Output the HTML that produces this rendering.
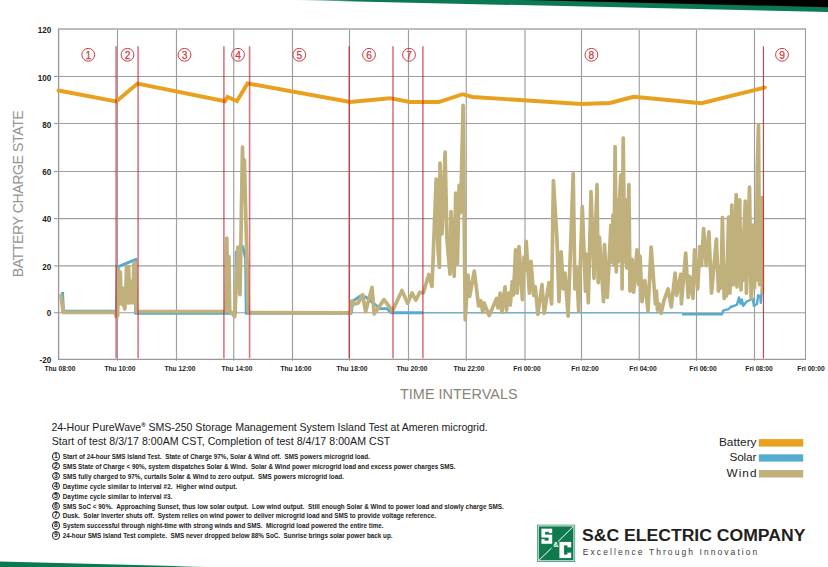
<!DOCTYPE html>
<html><head><meta charset="utf-8"><title>chart</title>
<style>
html,body{margin:0;padding:0;background:#fff;}
body{width:828px;height:567px;position:relative;overflow:hidden;font-family:"Liberation Sans",sans-serif;}
.xl{position:absolute;top:363.6px;width:60px;text-align:center;font-size:7px;font-weight:bold;color:#1c1c1c;line-height:10px;white-space:nowrap;transform:scaleX(0.95);}
.yl{position:absolute;left:20px;width:31.3px;text-align:right;font-size:8.8px;font-weight:bold;color:#1e1e1e;line-height:10px;transform:scaleX(0.92);transform-origin:100% 50%;}
.ylab{position:absolute;left:17.6px;top:194.4px;width:0;height:0;}
.ylab span{position:absolute;white-space:nowrap;transform:translate(-50%,-50%) rotate(-90deg);font-size:14.2px;color:#949494;letter-spacing:-0.47px;}
.xt{position:absolute;left:400px;top:384.9px;font-size:15px;color:#8a8378;white-space:nowrap;line-height:18px;transform:scaleX(0.964);transform-origin:0 50%;}
.t1{position:absolute;left:51.4px;font-size:10.6px;color:#1a1a1a;white-space:nowrap;line-height:14px;}
.n{position:absolute;left:51.3px;font-size:6.32px;font-weight:bold;color:#222;white-space:nowrap;line-height:9px;}
.n b{position:absolute;left:0.4px;top:0.2px;box-sizing:border-box;width:8.4px;height:8.4px;border:0.85px solid #222;border-radius:50%;font-size:6.8px;line-height:6.7px;text-align:center;letter-spacing:0;}
.n span{margin-left:11.4px;}
.lg{position:absolute;right:71.5px;font-size:11.8px;color:#222;line-height:14px;white-space:nowrap;text-align:right;}
.co{position:absolute;left:582.4px;top:526.1px;font-size:16.8px;font-weight:bold;color:#231f20;white-space:nowrap;line-height:20px;letter-spacing:0px;transform:scaleX(1.048);transform-origin:0 50%;}
.tag{position:absolute;left:582.8px;top:546.9px;font-size:8.5px;color:#3c3c3c;white-space:nowrap;line-height:11px;letter-spacing:2.07px;}
</style></head><body>

<svg width="828" height="567" viewBox="0 0 828 567" style="position:absolute;left:0;top:0">
<defs><linearGradient id="gg" x1="0" x2="1" y1="0" y2="0"><stop offset="0" stop-color="#0b7a52" stop-opacity="0"/><stop offset="0.12" stop-color="#0b7a52" stop-opacity="1"/><stop offset="1" stop-color="#0b7a52"/></linearGradient></defs>
<polygon points="290,0 828,0 828,12" fill="url(#gg)"/>
<defs><linearGradient id="gb" x1="0" x2="1" y1="0" y2="0"><stop offset="0" stop-color="#0b7a52"/><stop offset="0.8" stop-color="#0b7a52"/><stop offset="1" stop-color="#0b7a52" stop-opacity="0"/></linearGradient></defs><polygon points="0,561.4 0,567 214,567" fill="url(#gb)"/>
<polygon points="524,0 828,0 828,7.15" fill="#000"/>
<g stroke="#9e9e9e" stroke-width="1.15" fill="none"><line x1="117.5" y1="28.9" x2="117.5" y2="360.79999999999995"/><line x1="176.5" y1="28.9" x2="176.5" y2="360.79999999999995"/><line x1="233.75" y1="28.9" x2="233.75" y2="360.79999999999995"/><line x1="292.5" y1="28.9" x2="292.5" y2="360.79999999999995"/><line x1="349.5" y1="28.9" x2="349.5" y2="360.79999999999995"/><line x1="408.5" y1="28.9" x2="408.5" y2="360.79999999999995"/><line x1="466.25" y1="28.9" x2="466.25" y2="360.79999999999995"/><line x1="525" y1="28.9" x2="525" y2="360.79999999999995"/><line x1="581.5" y1="28.9" x2="581.5" y2="360.79999999999995"/><line x1="639.25" y1="28.9" x2="639.25" y2="360.79999999999995"/><line x1="696.5" y1="28.9" x2="696.5" y2="360.79999999999995"/><line x1="754.5" y1="28.9" x2="754.5" y2="360.79999999999995"/><line x1="58.6" y1="76.45" x2="805.5" y2="76.45"/><line x1="58.6" y1="123.5" x2="805.5" y2="123.5"/><line x1="58.6" y1="171.5" x2="805.5" y2="171.5"/><line x1="58.6" y1="218.65" x2="805.5" y2="218.65"/><line x1="58.6" y1="265.9" x2="805.5" y2="265.9"/><line x1="58.6" y1="312.7" x2="805.5" y2="312.7"/></g>
<line x1="57.9" y1="28.9" x2="806.1" y2="28.9" stroke="#bcbcbc" stroke-width="2"/>
<line x1="58.6" y1="28.9" x2="58.6" y2="359.9" stroke="#9a9a9a" stroke-width="1.4"/>
<line x1="805.5" y1="28.9" x2="805.5" y2="359.9" stroke="#999" stroke-width="1.05"/>
<g stroke="#9e9e9e" stroke-width="1.15"><line x1="53.9" y1="76.45" x2="58.6" y2="76.45"/><line x1="53.9" y1="123.5" x2="58.6" y2="123.5"/><line x1="53.9" y1="171.5" x2="58.6" y2="171.5"/><line x1="53.9" y1="218.65" x2="58.6" y2="218.65"/><line x1="53.9" y1="265.9" x2="58.6" y2="265.9"/><line x1="53.9" y1="312.7" x2="58.6" y2="312.7"/></g>
<line x1="57.9" y1="359.4" x2="806.1" y2="359.4" stroke="#999" stroke-width="1.1"/>
<polyline points="62.5,292.0 63.5,311.3 116.5,311.3 117.2,267.2 136.0,259.3 135.6,313.4 235.6,313.4 236.2,252.0 242.6,246.2 245.6,258.5 246.2,313.4 351.0,313.4 353.3,300.8 360.5,296.0 366.0,297.2 379.9,308.6 387.1,308.6 391.3,312.7 423.0,312.7" fill="none" stroke="#55acd0" stroke-width="2.9" stroke-linejoin="round"/>
<polyline points="423.0,312.9 682.0,312.9" fill="none" stroke="#55acd0" stroke-width="1"/>
<polyline points="682.0,314.2 722.0,314.2 723.1,310.6 728.4,309.1 730.6,307.0 736.9,304.9 739.0,297.5 740.5,303.8 741.8,299.6 743.3,305.9 746.4,301.7 752.8,298.5 753.9,305.9 757.0,303.8 758.1,295.3 760.2,296.4 760.8,302.8 762.3,285.8" fill="none" stroke="#55acd0" stroke-width="2.4" stroke-linejoin="round"/>
<polyline points="61.0,295.6 63.2,312.3 115.2,312.3 116.3,316.5 117.6,316.0 118.3,268.5 119.5,304.0 120.3,272.0 121.3,304.0 122.5,288.0 123.5,304.0 124.8,309.0 125.8,290.0 126.6,266.5 127.8,303.0 128.6,266.5 129.8,303.0 130.8,283.0 131.5,300.0 132.2,281.0 133.0,303.0 133.8,264.0 134.6,302.0 135.4,262.5 136.2,300.0 136.4,311.5 224.1,311.5 225.9,311.5 226.8,238.2 227.7,306.0 228.9,256.7 229.7,312.0 231.0,312.0 234.7,316.7 237.9,247.0 240.0,294.7 242.5,147.0 243.5,200.0 244.4,160.0 248.2,310.5 249.2,312.6 350.3,312.9 352.0,300.8 355.0,304.0 358.1,303.0 362.7,294.8 365.6,311.7 372.0,287.5 374.2,314.0 384.0,299.6 392.5,311.0 402.0,290.5 407.6,303.2 412.1,293.0 415.8,300.2 419.7,292.3 423.3,293.0 428.8,274.5 432.0,286.4 436.2,179.0 438.0,250.0 439.4,267.4 440.0,163.0 442.1,234.0 445.1,152.0 447.0,240.0 450.0,274.2 451.0,211.7 454.2,276.3 455.7,193.2 457.4,263.6 459.1,185.3 460.6,212.7 463.1,105.3 465.2,320.0 468.0,275.2 469.7,296.4 474.3,271.0 478.6,306.0 480.7,300.6 482.8,312.3 483.9,302.8 489.2,315.5 496.6,298.5 498.0,308.0 500.2,293.2 501.9,312.3 505.0,286.9 506.5,310.2 508.2,293.2 510.3,305.0 512.2,281.6 513.5,295.0 515.6,249.8 517.3,293.2 519.0,246.6 522.4,299.6 524.0,257.2 525.1,270.0 526.2,241.3 529.4,293.2 531.0,261.4 533.6,295.3 535.3,286.9 537.8,314.4 542.0,284.7 544.2,313.3 549.0,282.6 551.6,303.8 553.4,180.5 556.9,238.1 559.0,301.7 561.1,251.9 563.3,289.0 565.0,273.1 568.1,316.1 573.2,173.7 574.9,289.0 576.6,267.8 578.7,311.2 582.3,206.5 585.5,291.1 586.6,254.0 588.3,302.8 591.0,191.7 594.0,278.4 597.0,184.7 598.2,282.6 599.4,237.0 603.5,301.7 604.5,244.5 607.3,297.5 610.9,225.4 612.0,262.0 613.0,215.0 614.0,265.0 615.1,146.6 616.3,272.0 617.2,200.0 618.2,262.0 619.4,203.8 620.8,175.2 621.5,200.0 622.1,289.0 623.2,138.1 624.6,262.0 625.8,200.0 626.8,268.0 628.9,184.7 630.0,291.1 632.1,259.3 633.6,292.2 637.0,249.8 638.4,284.7 640.1,256.1 642.0,301.7 644.8,280.5 648.0,311.2 651.1,247.0 655.4,303.8 656.4,291.1 657.5,310.2 659.0,303.8 661.1,313.3 663.9,300.6 668.1,289.0 671.3,307.0 675.1,273.1 676.6,295.3 680.8,274.2 681.4,303.8 685.7,253.0 688.2,297.5 689.7,276.3 693.0,298.5 694.5,249.8 697.7,289.0 699.8,246.6 701.5,265.7 703.6,228.6 706.2,265.7 708.9,231.8 711.5,293.2 716.4,239.2 718.5,291.1 720.3,268.0 721.0,288.0 722.4,217.6 724.2,298.5 725.6,285.0 726.5,296.0 728.6,217.0 729.9,293.2 731.8,205.0 733.2,285.0 734.2,262.0 736.2,194.5 737.0,286.9 738.0,243.0 739.7,199.8 741.0,290.0 742.1,262.0 742.8,280.5 743.6,240.0 745.3,201.0 746.4,293.2 747.5,262.0 749.5,187.2 751.1,298.5 752.7,279.0 753.4,225.0 754.5,288.0 755.2,250.0 756.0,280.5 757.4,165.0 758.5,125.0 759.6,284.7 760.8,250.0 762.2,197.5 762.4,292.0" fill="none" stroke="#c0b07b" stroke-width="3.7" stroke-linejoin="round" stroke-linecap="round"/>
<polyline points="58.5,90.5 116.2,101.5 137.5,83.5 225.0,101.2 227.5,97.0 237.0,101.0 247.5,83.4 350.0,102.0 390.0,98.2 410.0,102.0 438.8,102.0 462.5,94.2 472.5,97.0 581.2,104.0 610.0,103.0 633.6,96.8 701.5,103.2 764.8,87.5" fill="none" stroke="#e9a01f" stroke-width="3.9" stroke-linejoin="miter" stroke-linecap="round"/>
<g stroke="rgba(200,22,40,0.6)" stroke-width="1.6"><line x1="116.1" y1="46.2" x2="116.1" y2="358.2"/><line x1="138.1" y1="46.2" x2="138.1" y2="358.2"/><line x1="223.9" y1="46.2" x2="223.9" y2="358.2"/><line x1="249.6" y1="46.2" x2="249.6" y2="358.2"/><line x1="349.2" y1="46.2" x2="349.2" y2="358.2"/><line x1="393" y1="46.2" x2="393" y2="358.2"/><line x1="422.9" y1="46.2" x2="422.9" y2="358.2"/></g>
<line x1="763.4" y1="46.3" x2="763.4" y2="358.5" stroke="#cc2a30" stroke-width="1"/>
<circle cx="88.25" cy="54.8" r="6.4" fill="none" stroke="#cf3a40" stroke-width="1"/>
<text x="88.25" y="58.6" text-anchor="middle" font-family="Liberation Sans, sans-serif" font-size="10.2" fill="#cf3a40" stroke="#cf3a40" stroke-width="0.25">1</text>
<circle cx="127.5" cy="54.8" r="6.4" fill="none" stroke="#cf3a40" stroke-width="1"/>
<text x="127.5" y="58.6" text-anchor="middle" font-family="Liberation Sans, sans-serif" font-size="10.2" fill="#cf3a40" stroke="#cf3a40" stroke-width="0.25">2</text>
<circle cx="184.5" cy="54.8" r="6.4" fill="none" stroke="#cf3a40" stroke-width="1"/>
<text x="184.5" y="58.6" text-anchor="middle" font-family="Liberation Sans, sans-serif" font-size="10.2" fill="#cf3a40" stroke="#cf3a40" stroke-width="0.25">3</text>
<circle cx="238" cy="54.8" r="6.4" fill="none" stroke="#cf3a40" stroke-width="1"/>
<text x="238" y="58.6" text-anchor="middle" font-family="Liberation Sans, sans-serif" font-size="10.2" fill="#cf3a40" stroke="#cf3a40" stroke-width="0.25">4</text>
<circle cx="299.25" cy="54.8" r="6.4" fill="none" stroke="#cf3a40" stroke-width="1"/>
<text x="299.25" y="58.6" text-anchor="middle" font-family="Liberation Sans, sans-serif" font-size="10.2" fill="#cf3a40" stroke="#cf3a40" stroke-width="0.25">5</text>
<circle cx="369" cy="54.8" r="6.4" fill="none" stroke="#cf3a40" stroke-width="1"/>
<text x="369" y="58.6" text-anchor="middle" font-family="Liberation Sans, sans-serif" font-size="10.2" fill="#cf3a40" stroke="#cf3a40" stroke-width="0.25">6</text>
<circle cx="409" cy="54.8" r="6.4" fill="none" stroke="#cf3a40" stroke-width="1"/>
<text x="409" y="58.6" text-anchor="middle" font-family="Liberation Sans, sans-serif" font-size="10.2" fill="#cf3a40" stroke="#cf3a40" stroke-width="0.25">7</text>
<circle cx="591.4" cy="54.8" r="6.4" fill="none" stroke="#cf3a40" stroke-width="1"/>
<text x="591.4" y="58.6" text-anchor="middle" font-family="Liberation Sans, sans-serif" font-size="10.2" fill="#cf3a40" stroke="#cf3a40" stroke-width="0.25">8</text>
<circle cx="782" cy="54.8" r="6.4" fill="none" stroke="#cf3a40" stroke-width="1"/>
<text x="782" y="58.6" text-anchor="middle" font-family="Liberation Sans, sans-serif" font-size="10.2" fill="#cf3a40" stroke="#cf3a40" stroke-width="0.25">9</text>
<rect x="758.8" y="439.1" width="44.4" height="7.5" fill="#e9a01f"/>
<rect x="758.8" y="454.3" width="44.4" height="7.3" fill="#55acd0"/>
<rect x="758.8" y="470" width="44.4" height="7.5" fill="#c0b07b"/>
<g><rect x="537" y="524.7" width="38.1" height="37.3" fill="#2b8f63"/><rect x="538.2" y="525.9" width="35.7" height="34.9" fill="#0f7a4e" stroke="#fff" stroke-width="0.9"/><path d="M539 560.2 L551.6 548 M558 541.6 L573.4 526.4" stroke="#fff" stroke-width="1" fill="none"/><path d="M541.5 528.8H552.1V533.1H549V531.7H545.1V534.7H552.1V543.7H541.5V539.3H544.6V540.7H548.7V537.5H541.5Z" fill="#fff" stroke="#fff" stroke-width="0.2" stroke-linejoin="round"/><path d="M559.5 542H571.1V547.3H567.5V545.3H563.9V554.7H567.5V552.8H571.1V557.9H559.5Z" fill="#fff" stroke="#fff" stroke-width="0.2" stroke-linejoin="round"/><text x="555.9" y="547.3" text-anchor="middle" font-family="Liberation Sans, sans-serif" font-weight="bold" font-size="7.2" fill="#fff">&amp;</text></g>
</svg>
<div class="xl" style="left:30.30px">Thu 08:00</div>
<div class="xl" style="left:89.50px">Thu 10:00</div>
<div class="xl" style="left:150.00px">Thu 12:00</div>
<div class="xl" style="left:207.25px">Thu 14:00</div>
<div class="xl" style="left:265.60px">Thu 16:00</div>
<div class="xl" style="left:322.25px">Thu 18:00</div>
<div class="xl" style="left:381.75px">Thu 20:00</div>
<div class="xl" style="left:439.25px">Thu 22:00</div>
<div class="xl" style="left:497.25px">Fri 00:00</div>
<div class="xl" style="left:554.50px">Fri 02:00</div>
<div class="xl" style="left:612.90px">Fri 04:00</div>
<div class="xl" style="left:672.50px">Fri 06:00</div>
<div class="xl" style="left:729.00px">Fri 08:00</div>
<div class="xl" style="left:781.25px">Fri 00:00</div>
<div class="yl" style="top:25.05px">120</div>
<div class="yl" style="top:72.95px">100</div>
<div class="yl" style="top:119.70px">80</div>
<div class="yl" style="top:167.05px">60</div>
<div class="yl" style="top:214.40px">40</div>
<div class="yl" style="top:261.70px">20</div>
<div class="yl" style="top:308.40px">0</div>
<div class="yl" style="top:355.10px">-20</div>
<div class="ylab"><span>BATTERY CHARGE STATE</span></div>
<div class="xt">TIME INTERVALS</div>
<div class="t1" style="top:420.2px;letter-spacing:-0.032px">24-Hour PureWave<sup style="font-size:6px;font-weight:bold;line-height:0;vertical-align:3.6px;letter-spacing:0">&reg;</sup> SMS-250 Storage Management System Island Test at Ameren microgrid.</div>
<div class="t1" style="top:433.7px;left:51.7px;letter-spacing:0.034px">Start of test 8/3/17 8:00AM CST, Completion of test 8/4/17 8:00AM CST</div>
<div class="n" style="top:452.20px"><b>1</b><span style="letter-spacing:0.015px">Start of 24-hour SMS Island Test.&nbsp; State of Charge 97%, Solar &amp; Wind off.&nbsp; SMS powers microgrid load.</span></div>
<div class="n" style="top:461.60px"><b>2</b><span style="letter-spacing:0.001px">SMS State of Charge &lt; 90%, system dispatches Solar &amp; Wind.&nbsp; Solar &amp; Wind power microgrid load and excess power charges SMS.</span></div>
<div class="n" style="top:471.70px"><b>3</b><span style="letter-spacing:0.039px">SMS fully charged to 97%, curtails Solar &amp; Wind to zero output.&nbsp; SMS powers microgrid load.</span></div>
<div class="n" style="top:481.70px"><b>4</b><span style="letter-spacing:0.087px">Daytime cycle similar to interval #2.&nbsp; Higher wind output.</span></div>
<div class="n" style="top:491.50px"><b>5</b><span style="letter-spacing:0.084px">Daytime cycle similar to interval #3.</span></div>
<div class="n" style="top:501.50px"><b>6</b><span style="letter-spacing:0.036px">SMS SoC &lt; 90%.&nbsp; Approaching Sunset, thus low solar output.&nbsp; Low wind output.&nbsp; Still enough Solar &amp; Wind to power load and slowly charge SMS.</span></div>
<div class="n" style="top:510.90px"><b>7</b><span style="letter-spacing:-0.003px">Dusk.&nbsp; Solar Inverter shuts off.&nbsp; System relies on wind power to deliver microgrid load and SMS to provide voltage reference.</span></div>
<div class="n" style="top:521.00px"><b>8</b><span style="letter-spacing:-0.008px">System successful through night-time with strong winds and SMS.&nbsp; Microgrid load powered the entire time.</span></div>
<div class="n" style="top:531.00px"><b>9</b><span style="letter-spacing:0.006px">24-hour SMS Island Test complete.&nbsp; SMS never dropped below 88% SoC.&nbsp; Sunrise brings solar power back up.</span></div>
<div class="lg" style="top:434.5px;letter-spacing:0.038px;margin-right:-0.038px">Battery</div>
<div class="lg" style="top:449.7px;letter-spacing:-0.112px;margin-right:0.112px">Solar</div>
<div class="lg" style="top:465.5px;letter-spacing:1.036px;margin-right:-1.036px">Wind</div>
<div class="co">S&amp;C ELECTRIC COMPANY</div>
<div class="tag">Excellence Through Innovation</div>
</body></html>
